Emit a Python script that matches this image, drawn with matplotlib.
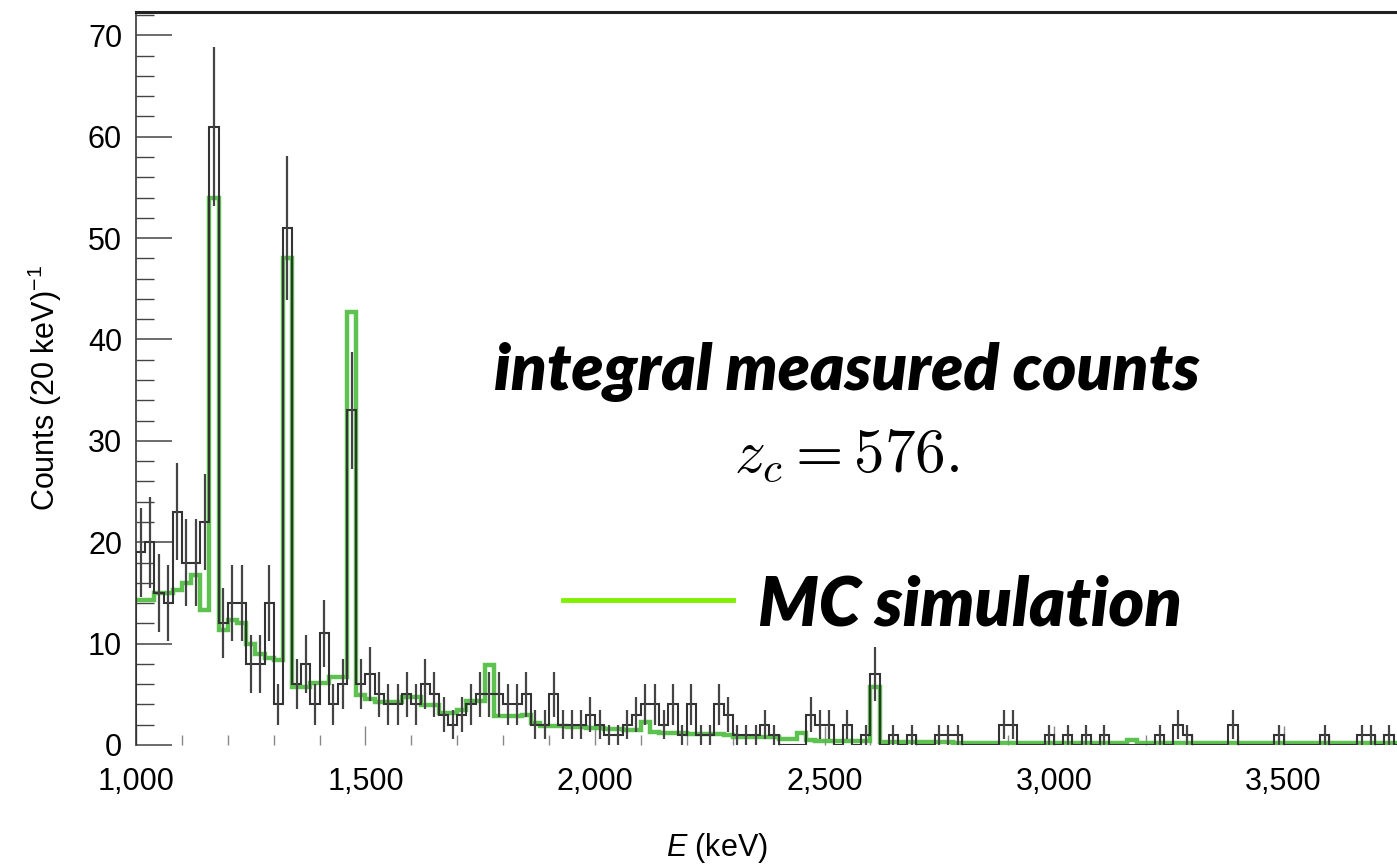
import numpy as np
import matplotlib

matplotlib.use("Agg")
import matplotlib.pyplot as plt
from matplotlib.lines import Line2D
from matplotlib.ticker import FuncFormatter, MultipleLocator

# Spectrum, 20 keV bins starting at 1000 keV
bin_start = 1000
bin_width = 20

measured_counts = [
    19, 20, 15, 14, 23, 18, 18, 22, 61,
    12, 14, 14, 8, 8, 14, 4, 51,
    6, 8, 4, 11, 4, 6, 33,
    6, 7, 5, 4, 4, 5, 4, 6, 5, 3, 2, 3, 4, 5, 5, 5, 4, 4, 5,
    2, 2, 5, 2, 2, 2, 3, 2, 1, 1, 2, 3, 4, 4, 2, 4, 1, 4, 1, 1, 4, 3,
    1, 1, 1, 2, 1, 0, 0, 0, 3, 2, 2, 0, 2, 0, 1, 7,
    0, 1, 0, 1, 0, 0, 1, 1, 1, 0, 0, 0, 0, 2, 2, 0, 0, 0, 1, 0,
    1, 0, 1, 0, 1, 0, 0, 0, 0, 0, 1, 0, 2, 1, 0, 0, 0, 0, 2, 0,
    0, 0, 0, 1, 0, 0, 0, 0, 1, 0, 0, 0, 1, 1, 0, 1, 0,
]

mc_simulation = [
    14.3, 14.3, 15.0, 15.0, 15.3, 16.0, 16.8, 13.3, 54.0,
    11.3, 12.3, 12.0, 10.0, 9.0, 8.6, 8.4, 48.0,
    5.7, 5.7, 6.1, 6.1, 6.7, 6.7, 42.7,
    4.9, 4.5, 4.2, 4.2, 4.2, 4.7, 4.7, 3.9, 3.9, 3.2, 3.2, 3.5, 4.3, 4.3, 7.9,
    2.9, 2.9, 2.9, 3.0, 2.2,
    1.9, 1.9, 1.9, 1.8, 1.8, 1.7, 1.7, 1.6, 1.6, 1.5, 1.5, 2.3,
    1.3, 1.2, 1.2, 1.2, 1.1, 1.1, 1.1, 1.1, 1.0,
    0.8, 0.8, 0.8, 0.8, 0.8, 0.6, 0.6, 1.2, 0.5,
    0.35, 0.35, 0.35, 0.35, 0.35, 0.35, 5.7,
    0.3, 0.3, 0.3, 0.25, 0.25, 0.25, 0.25, 0.25, 0.2, 0.2,
    0.2, 0.2, 0.2, 0.2, 0.2, 0.2, 0.2, 0.2, 0.2, 0.2,
    0.2, 0.2, 0.2, 0.2, 0.2, 0.2, 0.2, 0.5, 0.2, 0.2,
    0.2, 0.2, 0.2, 0.2, 0.2, 0.2, 0.2, 0.2, 0.2, 0.2,
    0.15, 0.15, 0.15, 0.15, 0.15, 0.15, 0.15, 0.15, 0.15, 0.15,
    0.15, 0.15, 0.15, 0.15, 0.15, 0.15, 0.15,
]

x_ticks = [1000, 1500, 2000, 2500, 3000, 3500]
y_ticks = [0, 10, 20, 30, 40, 50, 60, 70]

counts = np.array(measured_counts, dtype=float)
mc = np.array(mc_simulation, dtype=float)
edges = bin_start + bin_width * np.arange(len(counts) + 1)
centers = 0.5 * (edges[:-1] + edges[1:])

plt.rcParams["mathtext.fontset"] = "custom"
plt.rcParams["mathtext.rm"] = "Liberation Sans"
plt.rcParams["mathtext.it"] = "Liberation Sans:italic"

W, H = 1397, 868
fig = plt.figure(figsize=(W / 100, H / 100), dpi=100)
ax = fig.add_axes([136 / W, 1 - 745 / H, 1 - 136 / W, (745 - 12) / H])

ax.stairs(mc, edges, color="#4cbc3e", lw=3.2, zorder=2, baseline=None, alpha=0.9)
ax.stairs(counts, edges, color="#333333", lw=1.5, zorder=3)
nz = counts > 0
ax.errorbar(centers[nz], counts[nz], yerr=np.sqrt(counts[nz]), fmt="none",
            ecolor="#444444", elinewidth=1.6, zorder=4)

ax.set_xlim(1000, 1000 + (W - 136) / 0.459)
ax.set_ylim(0, 72.3)

for side in ("right", "bottom"):
    ax.spines[side].set_visible(False)
ax.spines["top"].set_linewidth(2.2)
ax.spines["top"].set_color("#222")
ax.spines["left"].set_linewidth(1.3)
ax.spines["left"].set_color("#444")

ax.set_xticks(x_ticks)
ax.set_yticks(y_ticks)
ax.xaxis.set_minor_locator(MultipleLocator(100))
ax.yaxis.set_minor_locator(MultipleLocator(2))
ax.xaxis.set_major_formatter(FuncFormatter(lambda v, p: f"{int(v):,}"))
ax.tick_params(axis="y", which="major", direction="in", length=26, width=1.1,
               color="#444", labelsize=22, pad=10)
ax.tick_params(axis="y", which="minor", direction="in", length=13, width=1.0, color="#444")
ax.tick_params(axis="x", which="major", direction="in", length=14, width=1.0,
               color="#888", labelsize=22, pad=16)
ax.tick_params(axis="x", which="minor", direction="in", length=7, width=1.0, color="#888")
for lab in ax.get_xticklabels() + ax.get_yticklabels():
    lab.set_family(["Liberation Sans", "DejaVu Sans"])

fig.text(45 / W, 1 - 388 / H, "Counts (20 keV)$^{-1}$", rotation=90, ha="center", va="center",
         fontsize=22, family=["Liberation Sans Narrow", "Liberation Sans"])
fig.text(717 / W, 1 - 848 / H, "$E$ (keV)", ha="center", va="center", fontsize=22,
         family=["Liberation Sans", "DejaVu Sans"])

hand = dict(family=["Lato", "DejaVu Sans"], style="italic", weight="heavy")
fig.text(847 / W, 1 - 372 / H, "integral measured counts", ha="center", va="center",
         fontsize=47, **hand)
fig.text(847 / W, 1 - 455 / H, r"$z_c = 576.$", ha="center", va="center", fontsize=44,
         math_fontfamily="cm")
fig.text(970 / W, 1 - 605 / H, "MC simulation", ha="center", va="center", fontsize=49, **hand)
fig.add_artist(Line2D([563 / W, 733 / W], [1 - 600 / H] * 2, color="#7ff000", lw=3.5))

fig.savefig("out.png", dpi=100)
